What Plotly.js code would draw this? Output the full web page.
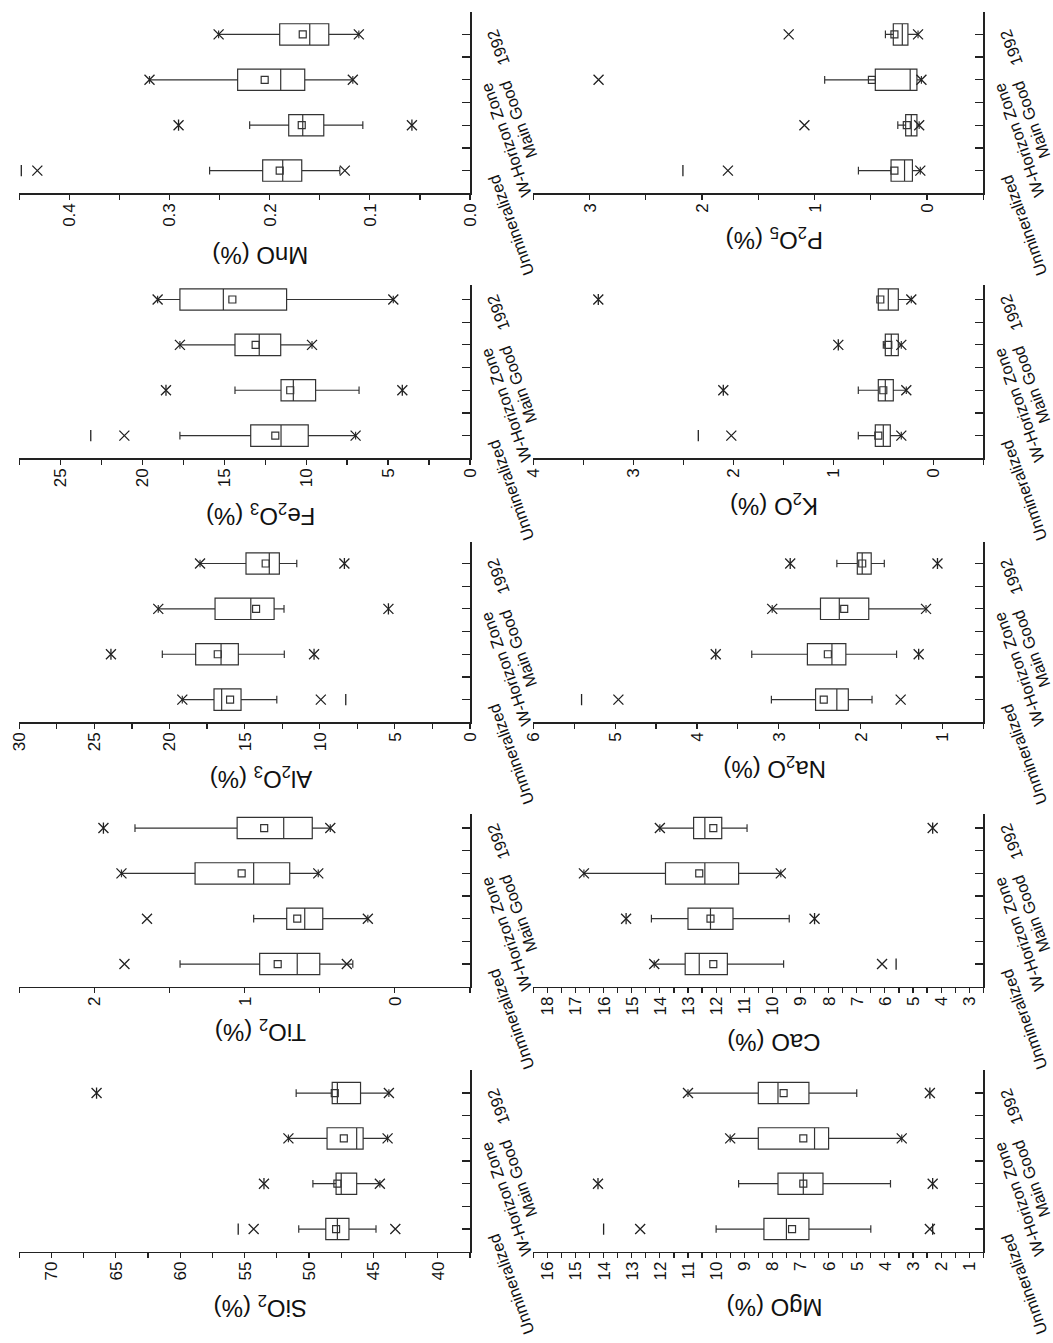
<!DOCTYPE html>
<html>
<head>
<meta charset="utf-8">
<script src="https://cdn.plot.ly/plotly-3.0.1.min.js"></script>
<style>
  html, body { margin: 0; padding: 0; width: 1053px; height: 1343px; overflow: hidden; background: #fff; }
  /* the figure is laid out landscape and turned a quarter turn counter-clockwise */
  #fig { position: absolute; left: 0; top: 0; width: 1343px; height: 1053px;
         transform-origin: 0 0; transform: translate(0, 1343px) rotate(-90deg); }
</style>
</head>
<body>
<div id="fig"></div>
<script>
// Sample groups (box positions 1..4)
const CATEGORIES = ['Unmineralized', 'W-Horizon Zone', 'Main Good', '1992'];

// Box statistics per oxide (wt %): box = q1..q3, whiskers whLo..whHi,
// x marks at p1 / p99, dashes at min / max (null = not shown)
const SIO2 = {
  max:    [55.5, 53.5, null, 66.5],
  p99:    [54.3, 53.5, 51.6, 66.5],
  whHi:   [50.8, 49.7, 51.6, 51.0],
  q3:     [48.7, 47.9, 48.6, 48.2],
  median: [47.8, 47.5, 46.3, 47.8],
  mean:   [47.9, 47.8, 47.3, 48.0],
  q1:     [46.9, 46.3, 45.8, 46.0],
  whLo:   [44.8, 44.5, 43.9, 43.8],
  p1:     [43.3, 44.5, 43.9, 43.8],
  min:    [null, null, null, null]
};
const TIO2 = {
  max:    [null, null, null, 1.94],
  p99:    [1.80, 1.65, 1.82, 1.94],
  whHi:   [1.43, 0.94, 1.82, 1.73],
  q3:     [0.90, 0.72, 1.33, 1.05],
  median: [0.65, 0.60, 0.94, 0.74],
  mean:   [0.78, 0.65, 1.02, 0.87],
  q1:     [0.50, 0.48, 0.70, 0.55],
  whLo:   [0.28, 0.18, 0.51, 0.43],
  p1:     [0.32, 0.18, 0.51, 0.43],
  min:    [null, null, null, null]
};
const AL2O3 = {
  max:    [null, 23.9, null, null],
  p99:    [19.15, 23.9, 20.75, 17.97],
  whHi:   [19.15, 20.48, 20.75, 17.97],
  q3:     [17.04, 18.26, 16.97, 14.91],
  median: [16.53, 16.57, 14.59, 13.36],
  mean:   [15.97, 16.79, 14.24, 13.60],
  q1:     [15.24, 15.42, 13.04, 12.69],
  whLo:   [12.86, 12.36, 12.38, 11.53],
  p1:     [9.93, 10.38, 5.43, 8.36],
  min:    [8.27, 10.38, 5.43, 8.36]
};
const FE2O3 = {
  max:    [23.14, 18.55, null, null],
  p99:    [21.09, 18.55, 17.70, 19.06],
  whHi:   [17.70, 14.34, 17.70, 19.06],
  q3:     [13.38, 11.53, 14.34, 17.70],
  median: [11.53, 10.78, 12.86, 15.05],
  mean:   [11.88, 10.97, 13.08, 14.50],
  q1:     [9.87, 9.42, 11.55, 11.19],
  whLo:   [6.98, 6.77, 9.64, 4.68],
  p1:     [6.98, 4.13, 9.64, 4.68],
  min:    [null, 4.13, null, null]
};
const MNO = {
  max:    [0.448, 0.291, null, null],
  p99:    [0.432, 0.291, 0.320, 0.251],
  whHi:   [0.260, 0.220, 0.320, 0.251],
  q3:     [0.207, 0.181, 0.232, 0.190],
  median: [0.187, 0.167, 0.189, 0.160],
  mean:   [0.190, 0.168, 0.205, 0.167],
  q1:     [0.168, 0.146, 0.165, 0.141],
  whLo:   [0.130, 0.107, 0.117, 0.111],
  p1:     [0.125, 0.058, 0.117, 0.111],
  min:    [null, 0.058, null, null]
};
const MGO = {
  max:    [14.0, 14.2, null, null],
  p99:    [12.7, 14.2, 9.5, 11.0],
  whHi:   [10.0, 9.2, 9.5, 11.0],
  q3:     [8.3, 7.8, 8.5, 8.5],
  median: [7.5, 6.9, 6.5, 7.8],
  mean:   [7.3, 6.9, 6.9, 7.6],
  q1:     [6.7, 6.2, 6.0, 6.7],
  whLo:   [4.5, 3.8, 3.4, 5.0],
  p1:     [2.4, 2.3, 3.4, 2.4],
  min:    [2.3, 2.3, null, 2.4]
};
const CAO = {
  max:    [null, 15.2, null, null],
  p99:    [14.2, 15.2, 16.7, 14.0],
  whHi:   [14.2, 14.3, 16.7, 14.0],
  q3:     [13.1, 13.0, 13.8, 12.8],
  median: [12.6, 12.2, 12.4, 12.4],
  mean:   [12.1, 12.2, 12.6, 12.1],
  q1:     [11.6, 11.4, 11.2, 11.8],
  whLo:   [9.6, 9.4, 9.7, 10.9],
  p1:     [6.1, 8.5, 9.7, 4.3],
  min:    [5.6, 8.5, null, 4.3]
};
const NA2O = {
  max:    [5.41, 3.77, null, 2.86],
  p99:    [4.96, 3.77, 3.08, 2.86],
  whHi:   [3.09, 3.33, 3.08, 2.29],
  q3:     [2.55, 2.65, 2.49, 2.04],
  median: [2.29, 2.35, 2.26, 1.98],
  mean:   [2.45, 2.40, 2.20, 1.98],
  q1:     [2.15, 2.18, 1.90, 1.87],
  whLo:   [1.86, 1.56, 1.20, 1.71],
  p1:     [1.51, 1.29, 1.20, 1.06],
  min:    [null, 1.29, null, 1.06]
};
const K2O = {
  max:    [2.35, 2.10, 0.95, 3.35],
  p99:    [2.02, 2.10, 0.95, 3.35],
  whHi:   [0.75, 0.75, 0.50, 0.55],
  q3:     [0.58, 0.55, 0.48, 0.55],
  median: [0.50, 0.48, 0.42, 0.45],
  mean:   [0.55, 0.50, 0.45, 0.53],
  q1:     [0.43, 0.40, 0.35, 0.35],
  whLo:   [0.32, 0.27, 0.32, 0.22],
  p1:     [0.32, 0.27, 0.32, 0.22],
  min:    [null, null, null, null]
};
const P2O5 = {
  max:    [2.17, null, null, null],
  p99:    [1.77, 1.09, 2.92, 1.23],
  whHi:   [0.61, 0.26, 0.91, 0.37],
  q3:     [0.32, 0.19, 0.46, 0.30],
  median: [0.20, 0.14, 0.15, 0.22],
  mean:   [0.29, 0.18, 0.49, 0.29],
  q1:     [0.13, 0.09, 0.09, 0.17],
  whLo:   [0.06, 0.07, 0.05, 0.08],
  p1:     [0.06, 0.07, 0.05, 0.08],
  min:    [null, null, null, null]
};

// Panel settings: value-axis range, tick step, title distance from the axis (px)
const PANELS = [
  { d: SIO2,  title: 'SiO<sub>2</sub> (%)',             row: 0, col: 0, range: [37.5, 72.5], dtick: 5,   tdist: 55 },
  { d: TIO2,  title: 'TiO<sub>2</sub> (%)',             row: 0, col: 1, range: [-0.5, 2.5],  dtick: 1,   tdist: 44 },
  { d: AL2O3, title: 'Al<sub>2</sub>O<sub>3</sub> (%)', row: 0, col: 2, range: [0, 30],      dtick: 5,   tdist: 55 },
  { d: FE2O3, title: 'Fe<sub>2</sub>O<sub>3</sub> (%)', row: 0, col: 3, range: [0, 27.5],    dtick: 5,   tdist: 56 },
  { d: MNO,   title: 'MnO (%)',                         row: 0, col: 4, range: [0, 0.45],    dtick: 0.1, tdist: 62, fmt: '.1f' },
  { d: MGO,   title: 'MgO (%)',                         row: 1, col: 0, range: [0.5, 16.5],  dtick: 1,   tdist: 56 },
  { d: CAO,   title: 'CaO (%)',                         row: 1, col: 1, range: [2.5, 18.5],  dtick: 1,   tdist: 56 },
  { d: NA2O,  title: 'Na<sub>2</sub>O (%)',             row: 1, col: 2, range: [0.5, 6],     dtick: 1,   tdist: 45 },
  { d: K2O,   title: 'K<sub>2</sub>O (%)',              row: 1, col: 3, range: [-0.5, 4],    dtick: 1,   tdist: 46 },
  { d: P2O5,  title: 'P<sub>2</sub>O<sub>5</sub> (%)',  row: 1, col: 4, range: [-0.5, 3.5],  dtick: 1,   tdist: 45 }
];

// Layout geometry in pixels of the landscape figure
const W = 1343, H = 1053;
const COL_PX = [[91.3, 272.6], [356.3, 529], [620.7, 801.3], [884.7, 1058], [1149.7, 1331.3]];
const COL_END = [4.5, 4.31, 4.48, 4.32, 4.5];
const ROW_PX = [[19.3, 470], [533.3, 983.3]];
// offsets of the slanted group labels from their tick (px right, px down)
const LABEL_OFFSET = [[-55, 41], [-15, 36], [-40, 48], [-13, 28]];

const INK = '#222';
const FONT = 'Liberation Sans, Arial, Helvetica, sans-serif';
const pos = CATEGORIES.map((_, i) => i + 1);

const traces = [];
const layout = {
  width: W, height: H,
  margin: { l: 0, r: 0, t: 0, b: 0 },
  paper_bgcolor: '#fff', plot_bgcolor: '#fff',
  showlegend: false,
  font: { family: FONT, color: '#111', size: 17 },
  annotations: []
};

PANELS.forEach((p, k) => {
  const n = k + 1;
  const sfx = n === 1 ? '' : String(n);
  const xa = 'x' + sfx, ya = 'y' + sfx;
  const cx = COL_PX[p.col], ry = ROW_PX[p.row];

  layout['xaxis' + sfx] = {
    domain: [cx[0] / W, cx[1] / W], anchor: ya,
    range: [0.5, COL_END[p.col]], type: 'linear',
    showline: true, linecolor: INK, linewidth: 1.5,
    ticks: 'inside', ticklen: 8, tickwidth: 1.2, tickcolor: INK,
    tickmode: 'array', tickvals: pos, showticklabels: false,
    minor: { tickmode: 'array', tickvals: [1.5, 2.5, 3.5, COL_END[p.col] - 0.002],
             ticks: 'inside', ticklen: 8, tickwidth: 1.2, tickcolor: INK },
    showgrid: false, zeroline: false, fixedrange: true
  };
  layout['yaxis' + sfx] = {
    domain: [1 - ry[1] / H, 1 - ry[0] / H], anchor: xa,
    range: p.range,
    showline: true, linecolor: INK, linewidth: 1.5,
    ticks: 'outside', ticklen: 5, tickwidth: 1.2, tickcolor: INK,
    tick0: 0, dtick: p.dtick, tickformat: p.fmt || '',
    tickfont: { size: 17, family: FONT, color: '#111' },
    minor: { tick0: 0, dtick: p.dtick / 2, ticks: 'outside', ticklen: 5, tickwidth: 1.2, tickcolor: INK },
    showgrid: false, zeroline: false, fixedrange: true
  };

  // value-axis title, read bottom to top beside the axis
  layout.annotations.push({
    xref: xa + ' domain', yref: ya + ' domain', x: 0, y: 0.5,
    xanchor: 'center', yanchor: 'middle', xshift: -p.tdist, yshift: -16,
    text: p.title, textangle: -90, showarrow: false,
    font: { size: 24, family: FONT, color: '#111' }
  });

  const d = p.d;
  traces.push({
    type: 'box', orientation: 'v', xaxis: xa, yaxis: ya,
    x: pos, q1: d.q1, median: d.median, q3: d.q3,
    lowerfence: d.whLo, upperfence: d.whHi,
    boxpoints: false, width: 0.47, whiskerwidth: 0.36,
    line: { color: '#333', width: 1.2 }, fillcolor: 'rgba(255,255,255,0)'
  });
  traces.push({
    type: 'scatter', mode: 'markers', xaxis: xa, yaxis: ya,
    x: pos, y: d.mean,
    marker: { symbol: 'square-open', size: 7, color: '#333', line: { width: 1.2 } }
  });
  traces.push({
    type: 'scatter', mode: 'markers', xaxis: xa, yaxis: ya,
    x: pos.concat(pos), y: d.p1.concat(d.p99),
    marker: { symbol: 'x-thin-open', size: 10, color: '#222', line: { width: 1.3, color: '#222' } }
  });
  traces.push({
    type: 'scatter', mode: 'markers', xaxis: xa, yaxis: ya,
    x: pos.concat(pos), y: d.min.concat(d.max),
    marker: { symbol: 'line-ew-open', size: 8, color: '#222', line: { width: 1.3, color: '#222' } }
  });

  CATEGORIES.forEach((c, i) => {
    layout.annotations.push({
      xref: xa, yref: ya + ' domain', x: i + 1, y: 0,
      text: c, showarrow: false, textangle: -20,
      xanchor: 'center', yanchor: 'middle',
      xshift: LABEL_OFFSET[i][0], yshift: -LABEL_OFFSET[i][1],
      font: { size: 16.5, family: FONT, color: '#111' }
    });
  });
});

Plotly.newPlot('fig', traces, layout, { staticPlot: true, displayModeBar: false });
</script>
</body>
</html>
